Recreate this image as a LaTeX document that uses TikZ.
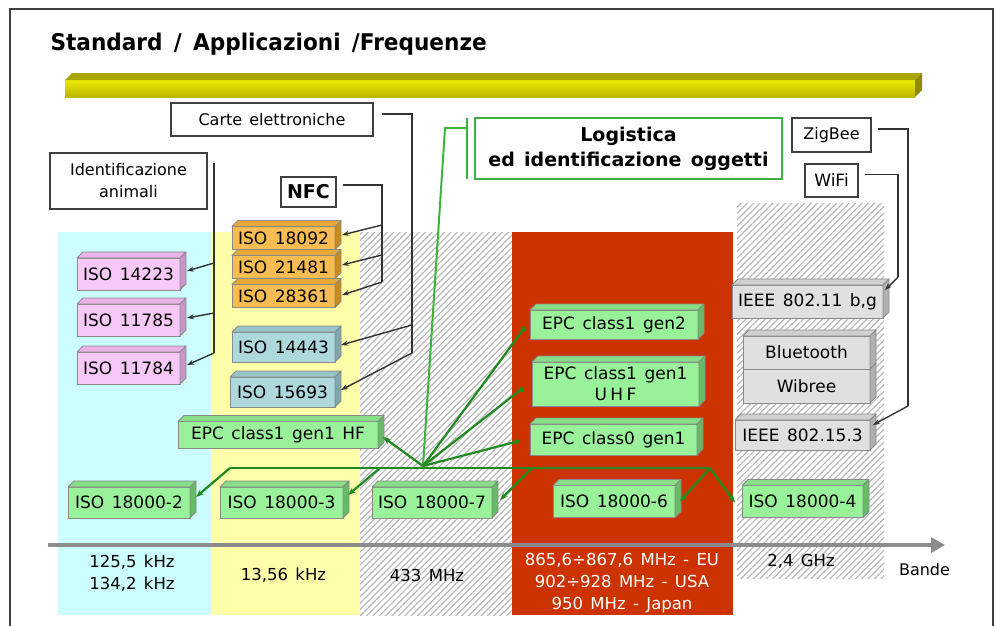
\documentclass[tikz,border=0pt]{standalone}
\usepackage{fontspec}
\setmainfont{DejaVu Sans}[WordSpace=1.4]
\newfontfamily\titlefont{DejaVu Sans}[FakeStretch=0.94,WordSpace=1.5]
\usetikzlibrary{arrows.meta,patterns.meta,calc}
\definecolor{cyanB}{HTML}{CCFEFE}
\definecolor{yellowB}{HTML}{FFFFAA}
\definecolor{redB}{HTML}{CC3300}
\definecolor{hatchC}{HTML}{B8B8B8}
\definecolor{frameC}{HTML}{404040}
\definecolor{axisC}{HTML}{8C8C8C}
\definecolor{barTop}{HTML}{ECE800}
\definecolor{barBot}{HTML}{BDB500}
\definecolor{barFace}{HTML}{ABA500}
\definecolor{barEnd}{HTML}{8F8A00}
\definecolor{edgeC}{HTML}{8A8A8A}
\definecolor{pinkF}{HTML}{F8C8F8}\definecolor{pinkT}{HTML}{E9B2E9}\definecolor{pinkS}{HTML}{C995C9}
\definecolor{orgF}{HTML}{F8BC50}\definecolor{orgT}{HTML}{E8A838}\definecolor{orgS}{HTML}{C88B20}
\definecolor{tealF}{HTML}{ADD8DC}\definecolor{tealT}{HTML}{98C4C8}\definecolor{tealS}{HTML}{7EA8AC}
\definecolor{grnF}{HTML}{99F299}\definecolor{grnT}{HTML}{86DE86}\definecolor{grnS}{HTML}{66BB66}
\definecolor{grayF}{HTML}{E0E0E0}\definecolor{grayT}{HTML}{D0D0D0}\definecolor{grayS}{HTML}{B0B0B0}
\definecolor{logC}{HTML}{3CB043}
\definecolor{gLine}{HTML}{1F8A1F}
\definecolor{gLight}{HTML}{3CB43C}
\newcommand\cubebox[6]{%
  \node[cube, fill=#5F, minimum width=#3pt, minimum height=#4pt] (#1) at (#2) {#6};
  \filldraw[cubeface, fill=#5T] (#1.north west) -- ++(6,-6) -- ++(#3,0) -- (#1.north east) -- cycle;
  \filldraw[cubeface, fill=#5S] (#1.north east) -- ++(6,-6) -- ++(0,#4) -- (#1.south east) -- cycle;}
\begin{document}
\begin{tikzpicture}[x=1pt,y=-1pt, font=\fontsize{16}{19}\selectfont,
  cube/.style={draw=edgeC, line width=0.8pt, inner sep=0pt, outer sep=0pt, align=center, font=\fontsize{17}{21}\selectfont},
  cubeface/.style={draw=edgeC, line width=0.8pt, line join=round},
  lbl/.style={draw=black!75, line width=1.6pt, fill=white, inner sep=0pt, outer sep=0pt, align=center},
  conn/.style={draw=black!80, line width=1.4pt},
  arr/.style={conn, -{Stealth[length=7pt,width=5pt]}},
  gline/.style={draw=gLine, line width=2.2pt},
  glight/.style={draw=gLight, line width=2pt},
  garr/.style={gline, -{Stealth[length=8pt,width=6pt]}},
  gdot/.style={gline, -{Circle[length=5pt]}},
  hatch/.style={pattern={Lines[angle=45,distance=4.5pt,line width=1.2pt]}, pattern color=hatchC}
]
\useasboundingbox (0,0) rectangle (995,626);
% frequency bands
\fill[cyanB] (58,232) rectangle (211,615);
\fill[yellowB] (211,232) rectangle (360,615);
\fill[hatch] (360,232) rectangle (512,615);
\fill[redB] (512,232) rectangle (733,615);
\fill[hatch] (737,203) rectangle (884,578);
% frame
\draw[frameC, line width=1.2pt] (10,626) -- (10,9) -- (993,9) -- (993,626);
% title
\node[anchor=base west, font=\titlefont\fontsize{23}{26}\selectfont\bfseries] (title) at (47,51) {Standard / Applicazioni /Frequenze};
% bar
\shade[top color=barTop, bottom color=barBot] (65,80) rectangle (915,97);
\fill[barFace] (65,80) -- (72,73) -- (922,73) -- (915,80) -- cycle;
\fill[barEnd] (915,80) -- (922,73) -- (922,90) -- (915,97) -- cycle;
% axis
\draw[axisC, line width=4.5pt, -{Triangle[length=14pt,width=15pt]}] (48,545) -- (945,545);
% frequency labels
\node[align=center, font=\fontsize{16.5}{22}\selectfont] (f1) at (132,573) {125,5 kHz\\134,2 kHz};
\node[font=\fontsize{16.5}{22}\selectfont] (f2) at (283.5,575) {13,56 kHz};
\node[font=\fontsize{16.5}{22}\selectfont] (f3) at (427,575) {433 MHz};
\node[text=white, align=center, font=\fontsize{16.5}{22}\selectfont] (f4) at (622,583) {865,6÷867,6 MHz - EU\\902÷928 MHz - USA\\950 MHz - Japan};
\node[font=\fontsize{16.5}{22}\selectfont] (f5) at (801,561) {2,4 GHz};
\node[font=\fontsize{16}{22}\selectfont] (f6) at (924.5,569.5) {Bande};
% label boxes
\node[lbl, minimum width=202pt, minimum height=33pt] (carte) at (272,119.5) {Carte elettroniche};
\node[lbl, minimum width=157pt, minimum height=56pt, font=\fontsize{16}{22}\selectfont] (anim) at (128.5,181) {Identificazione\\animali};
\node[lbl, minimum width=55pt, minimum height=30pt, font=\fontsize{19}{22}\selectfont\bfseries] (nfc) at (308.5,192) {NFC};
\node[lbl, draw=logC, line width=2pt, minimum width=307pt, minimum height=61pt, font=\fontsize{19}{25}\selectfont\bfseries] (logi) at (628.5,148.5) {Logistica\\ed identificazione oggetti};
\node[lbl, minimum width=79pt, minimum height=34pt] (zig) at (831.5,135) {ZigBee};
\node[lbl, minimum width=53pt, minimum height=33pt, font=\fontsize{17}{20}\selectfont] (wifi) at (831.5,180.5) {WiFi};
% 3D boxes
\cubebox{p1}{128.5,274}{103}{32}{pink}{ISO 14223}
\cubebox{p2}{128.5,320}{103}{32}{pink}{ISO 11785}
\cubebox{p3}{128.5,368}{103}{32}{pink}{ISO 11784}
\cubebox{o1}{283.5,238}{103}{23}{org}{ISO 18092}
\cubebox{o2}{283.5,267}{103}{23}{org}{ISO 21481}
\cubebox{o3}{283.5,296}{103}{23}{org}{ISO 28361}
\cubebox{t1}{283.5,347}{103}{30}{teal}{ISO 14443}
\cubebox{t2}{282.5,392}{105}{30}{teal}{ISO 15693}
\cubebox{hf}{278,435}{200}{27}{grn}{EPC class1 gen1 HF}
\cubebox{gen2}{614,324.5}{168}{29}{grn}{EPC class1 gen2}
\cubebox{uhf}{615.5,384}{167}{44}{grn}{EPC class1 gen1\\{\addfontfeature{LetterSpace=20}UHF}}
\cubebox{cl0}{613.5,439.5}{167}{31}{grn}{EPC class0 gen1}
\cubebox{s2}{129,502.5}{122}{31}{grn}{ISO 18000-2}
\cubebox{s3}{281.5,502.5}{123}{31}{grn}{ISO 18000-3}
\cubebox{s7}{432,502.5}{120}{31}{grn}{ISO 18000-7}
\cubebox{s6}{614,501.5}{122}{32}{grn}{ISO 18000-6}
\cubebox{s4}{802.5,501.5}{121}{32}{grn}{ISO 18000-4}
\cubebox{ieee11}{807.5,301.5}{151}{33}{gray}{IEEE 802.11 b,g}
\cubebox{wib}{806.5,386}{127}{34}{gray}{Wibree}
\cubebox{blue}{806.5,352.5}{127}{33}{gray}{Bluetooth}
\cubebox{ieee153}{802.5,435}{135}{30}{gray}{IEEE 802.15.3}
% black connectors
\coordinate (cA) at (412,114);
\coordinate (cB) at (412,353);
\coordinate (cC) at (412,325);
\draw[conn] ($(carte.east)+(9,-5.5)$) -- (cA) -- (cB);
\draw[arr] (cC) -- ($(t1.east)+(6,-2)$);
\draw[arr] (cB) -- ($(t2.east)+(6,-2)$);
\coordinate (aB) at (214,353);
\coordinate (a1) at (214,263);
\coordinate (a2) at (214,313);
\draw[conn] ($(anim.north east)+(7,10)$) -- (aB);
\draw[arr] (a1) -- ($(p1.east)+(7,-3)$);
\draw[arr] (a2) -- ($(p2.east)+(7,-2)$);
\draw[arr] (aB) -- ($(p3.east)+(7,-3)$);
\coordinate (nA) at (382,185);
\coordinate (nB) at (382,282);
\coordinate (n1) at (382,225);
\coordinate (n2) at (382,255);
\draw[conn] ($(nfc.east)+(7,-7)$) -- (nA) -- (nB);
\draw[arr] (n1) -- ($(o1.east)+(7,-3)$);
\draw[arr] (n2) -- ($(o2.east)+(7,-2)$);
\draw[arr] (nB) -- ($(o3.east)+(7,-1)$);
\coordinate (zA) at (908,129);
\coordinate (zB) at (908,406);
\draw[conn] ($(zig.east)+(7,-6)$) -- (zA) -- (zB);
\draw[arr] (zB) -- ($(ieee153.north east)+(3,5)$);
\coordinate (wA) at (898,174.5);
\coordinate (wB) at (898,277);
\draw[conn] ($(wifi.east)+(7,-6)$) -- (wA) -- (wB);
\draw[arr] (wB) -- ($(ieee11.north east)+(2,5)$);
% green connectors
\coordinate (hub) at (423,466);
\coordinate (g1) at (445,128);
\coordinate (g2) at (467,128);
\draw[glight] ($(logi.north west)+(-8,0)$) -- ($(logi.south west)+(-8,0)$);
\draw[glight] (g2) -- (g1) -- (hub);
\draw[garr] (hub) -- ($(hf.east)+(5,2)$);
\draw[gdot] (hub) -- ($(gen2.west)+(-5,2.5)$);
\draw[gdot] (hub) -- ($(uhf.west)+(-9,4)$);
\draw[gdot] (hub) -- ($(cl0.west)+(-11,1.5)$);
\coordinate (hL) at (230,468);
\coordinate (hR) at (710,468);
\coordinate (h3) at (380,468);
\coordinate (h7) at (532,468);
\draw[gline] (hL) -- (hR);
\draw[garr] (hL) -- ($(s2.north east)+(6,10)$);
\draw[garr] (h3) -- ($(s3.north east)+(5,8)$);
\draw[garr] (h7) -- ($(s7.north east)+(8,13)$);
\draw[garr] (hR) -- ($(s6.north east)+(5,16)$);
\draw[garr] (hR) -- ($(s4.north west)+(-7,17)$);
\end{tikzpicture}
\end{document}
